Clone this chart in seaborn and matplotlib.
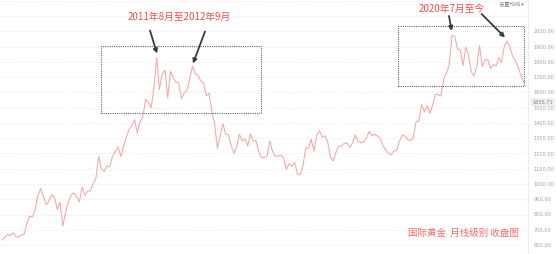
import matplotlib
matplotlib.use("Agg")
import matplotlib.pyplot as plt
from matplotlib.patches import Rectangle
import seaborn as sns
import pandas as pd
import numpy as np

# Monthly closes, Dec 2006 .. Sep 2022
closes_2006 = [632.0]
closes_2007 = [650.5, 669.0, 663.0, 679.4, 657.5, 650.5, 665.5, 672.0, 743.0, 789.5, 783.5, 833.8]
closes_2008 = [923.3, 971.5, 916.2, 864.4, 887.3, 930.3, 913.0, 833.0, 880.8, 724.0, 814.5, 883.5]
closes_2009 = [927.5, 942.0, 916.5, 883.3, 979.5, 927.0, 953.5, 955.5, 1001.5, 1040.0, 1180.0, 1096.5]
closes_2010 = [1082.5, 1118.5, 1113.0, 1180.0, 1212.8, 1244.0, 1181.0, 1247.0, 1307.0, 1357.5, 1385.0, 1421.1]
closes_2011 = [1333.7, 1409.3, 1439.0, 1556.0, 1536.5, 1500.4, 1628.3, 1828.5, 1620.0, 1722.0, 1746.4, 1565.8]
closes_2012 = [1739.0, 1697.0, 1668.0, 1664.0, 1558.0, 1598.5, 1614.0, 1692.0, 1773.0, 1719.0, 1713.0, 1675.4]
closes_2013 = [1662.0, 1578.0, 1597.0, 1472.0, 1393.0, 1234.0, 1313.0, 1396.0, 1327.0, 1323.0, 1250.0, 1202.0]
closes_2014 = [1244.0, 1326.0, 1284.0, 1296.0, 1250.0, 1327.0, 1282.0, 1286.0, 1210.0, 1171.0, 1175.0, 1184.0]
closes_2015 = [1283.0, 1213.0, 1183.0, 1183.0, 1190.0, 1172.0, 1095.0, 1134.0, 1115.0, 1142.0, 1065.0, 1061.0]
closes_2016 = [1117.0, 1238.0, 1233.0, 1293.0, 1215.0, 1321.0, 1350.0, 1309.0, 1316.0, 1274.0, 1173.0, 1151.0]
closes_2017 = [1210.0, 1248.0, 1249.0, 1268.0, 1268.0, 1241.0, 1269.0, 1322.0, 1280.0, 1271.0, 1275.0, 1303.0]
closes_2018 = [1345.0, 1318.0, 1325.0, 1315.0, 1298.0, 1252.0, 1224.0, 1201.0, 1192.0, 1215.0, 1222.0, 1282.0]
closes_2019 = [1321.0, 1313.0, 1292.0, 1284.0, 1305.0, 1409.0, 1414.0, 1520.0, 1472.0, 1513.0, 1464.0, 1517.0]
closes_2020 = [1589.0, 1585.0, 1577.0, 1687.0, 1730.0, 1781.0, 1975.0, 1968.0, 1886.0, 1879.0, 1776.0, 1898.0]
closes_2021 = [1847.0, 1734.0, 1708.0, 1769.0, 1906.0, 1770.0, 1814.0, 1814.0, 1757.0, 1783.0, 1774.0, 1829.0]
closes_2022 = [1797.0, 1908.0, 1937.0, 1897.0, 1837.0, 1807.0, 1766.0, 1711.0, 1665.0]

y_ticks = [600, 700, 800, 900, 1000, 1100, 1200, 1300, 1400, 1500, 1600, 1700, 1800, 1900, 2000]
y_tick_labels = [f"{v:.2f}" for v in y_ticks]

title1 = "2011年8月至2012年9月"
title2 = "2020年7月至今"
footer = "国际黄金  月线级别 收盘图"
menu = "设置均线 ▾"
current_label = "1656.71"

closes = (closes_2006 + closes_2007 + closes_2008 + closes_2009 + closes_2010 + closes_2011
          + closes_2012 + closes_2013 + closes_2014 + closes_2015 + closes_2016 + closes_2017
          + closes_2018 + closes_2019 + closes_2020 + closes_2021 + closes_2022)
df = pd.DataFrame({"month": np.arange(len(closes)), "close": closes})

sns.set_theme(style="white")
plt.rcParams['font.family'] = ['Noto Sans CJK SC', 'DejaVu Sans']

W, H = 556, 254
fig = plt.figure(figsize=(W / 100, H / 100), dpi=100)
fig.patch.set_facecolor("white")
ax = fig.add_axes([0, 0, 528 / W, 1])
ax.set_facecolor("white")

sns.lineplot(data=df, x="month", y="close", ax=ax, color="#f7aaaa", linewidth=0.8)

# pixel mapping: x_px = 2.1 + 2.76*m ; y_px = 245 - (v-600)*0.1525
px_per_m = 2.76
x0 = 2.1
ax.set_xlim(-x0 / px_per_m, (528 - x0) / px_per_m)
ypx = 0.1525
ax.set_ylim(600 - (254 - 245) / ypx, 600 + 245 / ypx)

def vx(px):
    return (px - x0) / px_per_m

def vy(py):
    return 600 + (245 - py) / ypx

ax.set_xlabel("")
ax.set_ylabel("")
ax.set_xticks([])
ax.yaxis.tick_right()
ax.set_yticks(y_ticks)
ax.set_yticklabels(y_tick_labels, fontsize=3.6, color="#a0a0a0", family="DejaVu Sans")
ax.tick_params(axis="y", length=0, pad=4)
for v in y_ticks + [2100, 2200]:
    ax.axhline(v, color="#e4e4e4", lw=0.6, ls=(0, (1, 1.5)), zorder=0)
for s in ["top", "left", "bottom"]:
    ax.spines[s].set_visible(False)
ax.spines["right"].set_color("#ececec")
ax.spines["right"].set_linewidth(0.8)

# dashed boxes
r1 = Rectangle((vx(101), vy(113)), vx(261) - vx(101), vy(46) - vy(113), fill=False,
               edgecolor="#666666", lw=0.8, ls=(0, (1, 1)), zorder=3)
r2 = Rectangle((vx(398), vy(86)), vx(523.5) - vx(398), vy(25.7) - vy(86), fill=False,
               edgecolor="#666666", lw=0.8, ls=(0, (1, 1)), zorder=3)
ax.add_patch(r1)
ax.add_patch(r2)

# titles
ax.text(vx(179), vy(17), title1, fontsize=7, color="#f24e4e", ha="center", va="center")
ax.text(vx(452), vy(9), title2, fontsize=7, color="#f24e4e", ha="center", va="center")

# arrows
arrow_kw = dict(arrowstyle="-|>", color="#3a3a3a", lw=1.3, mutation_scale=6, shrinkA=0, shrinkB=0)
for (xs, ys, xe, ye) in [(150, 30.5, 157, 53.5), (205, 31.5, 193, 63.5),
                         (449, 16, 451.7, 31), (481.7, 14, 505, 37.5)]:
    ax.annotate("", xy=(vx(xe), vy(ye)), xytext=(vx(xs), vy(ys)), arrowprops=arrow_kw, zorder=4)

# footer
fig.text(463.5 / W, 1 - 233 / H, footer, fontsize=6.8, color="#f86a6a", ha="center", va="center")

# menu text
fig.text(511 / W, 1 - 5 / H, menu, fontsize=3.8, color="#777777", ha="center", va="center")

# current price label
fig.text(543 / W, 1 - 102 / H, current_label, fontsize=3.6, color="#888888", ha="center", va="center",
         family="DejaVu Sans",
         bbox=dict(boxstyle="square,pad=0.25", fc="#eeeeee", ec="none"))

fig.savefig("out.png", dpi=100, facecolor="white")
